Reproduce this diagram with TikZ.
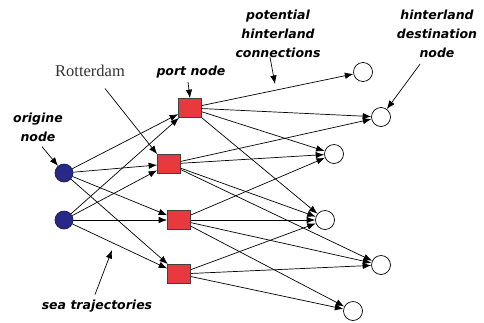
\documentclass[tikz,border=0pt]{standalone}
\usepackage{fontspec}
\setmainfont{Liberation Serif}
\newfontfamily\tagfont{DejaVu Sans}
\usetikzlibrary{arrows.meta, positioning}

\definecolor{portred}{RGB}{232,58,62}
\definecolor{seablue}{RGB}{40,40,135}

\begin{document}
\begin{tikzpicture}[x=1pt, y=-1pt, line width=0.7pt, >={Latex[length=8.5pt, width=6.5pt]},
    origin/.style = {draw=seablue!70!black, fill=seablue, circle, minimum size=18pt, inner sep=0pt},
    port/.style = {draw=black!75, fill=portred, minimum width=23pt, minimum height=19pt, inner sep=0pt},
    dest/.style = {draw, fill=white, circle, minimum size=19pt, inner sep=0pt},
    tag/.style = {font=\fontsize{12.5}{19}\selectfont\tagfont\bfseries\itshape, align=center, inner sep=1pt}]
    \useasboundingbox (0,0) rectangle (484,322);

    \node[origin] (o1) at (64,173) {};
    \node[origin] (o2) at (64,220) {};

    \node[port] (p1) at (190,108) {};
    \node[port] (p2) at (169,164) {};
    \node[port] (p3) at (179,220) {};
    \node[port] (p4) at (179,274) {};

    \node[dest] (d1) at (363,72) {};
    \node[dest] (d2) at (381,117) {};
    \node[dest] (d3) at (334,154) {};
    \node[dest] (d4) at (325,220) {};
    \node[dest] (d5) at (381,265) {};
    \node[dest] (d6) at (353,311) {};

    % labels
    \node[tag] (orilbl) at (38,127) {origine\\node};
    \node[tag] (portlbl) at (191,72) {port node};
    \node[tag] (potlbl) at (278,34) {potential\\hinterland\\connections};
    \node[tag] (destlbl) at (437,34) {hinterland\\destination\\node};
    \node[tag] (sealbl) at (97,306) {sea trajectories};
    \node[font=\fontsize{16.5}{18}\selectfont, text=black!80] (rot) at (90,71) {Rotterdam};

    \coordinate (pottip) at (275,84);
    \coordinate (seatip) at (112,250);

    % sea trajectories
    \draw[->] (o1) -- (p1);
    \draw[->] (o1) -- (p2);
    \draw[->] (o1) -- (p3);
    \draw[->] (o1) -- (p4);

    \draw[->] (o2) -- (p1);
    \draw[->] (o2) -- (p2);
    \draw[->] (o2) -- (p3);
    \draw[->] (o2) -- (p4);

    % hinterland connections
    \draw[->] (p1) -- (d1);
    \draw[->] (p1) -- (d2);
    \draw[->] (p1) -- (d3);
    \draw[->] (p1) -- (d4);

    \draw[->] (p2) -- (d2);
    \draw[->] (p2) -- (d3);
    \draw[->] (p2) -- (d4);
    \draw[->] (p2) -- (d5);

    \draw[->] (p3) -- (d3);
    \draw[->] (p3) -- (d4);
    \draw[->] (p3) -- (d5);
    \draw[->] (p3) -- (d6);

    \draw[->] (p4) -- (d4);
    \draw[->] (p4) -- (d5);
    \draw[->] (p4) -- (d6);

    % pointers from the labels
    \draw[->] (orilbl.south) ++(4,4) coordinate (oritail) -- (o1);
    \draw[->] (rot.south) ++(15,8) coordinate (rottail) -- (p2.north west);
    \draw[->] (portlbl) ++(-3,10) coordinate (porttail) -- (p1.north);
    \draw[->] (potlbl.south) ++(-8,-2) coordinate (pottail) -- (pottip);
    \draw[->] (destlbl.south) ++(-17,5) coordinate (desttail) -- (d2);
    \draw[->] (sealbl.north) ++(-2,-4) coordinate (seatail) -- (seatip);
\end{tikzpicture}
\end{document}
